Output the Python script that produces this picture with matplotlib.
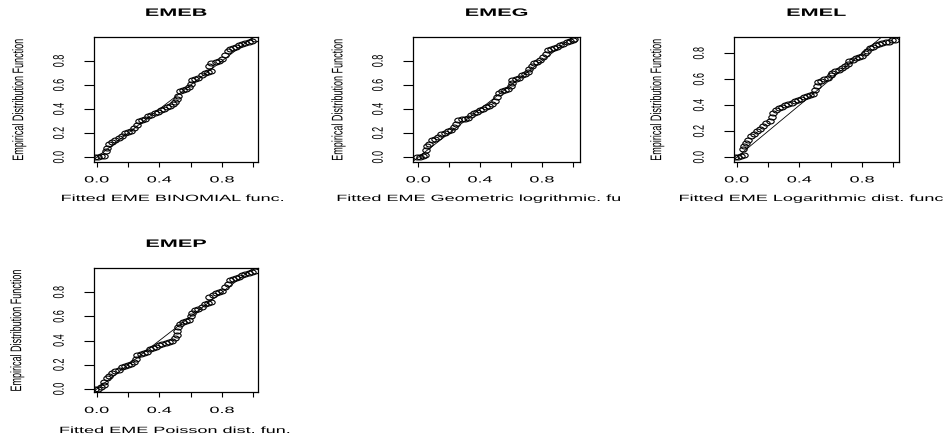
import matplotlib
matplotlib.use("Agg")
import matplotlib.pyplot as plt
from matplotlib.path import Path
from matplotlib.patheffects import AbstractPathEffect
from matplotlib.transforms import Affine2D

plt.rcParams["font.family"] = ["Liberation Sans", "DejaVu Sans"]

# P-P plot values (fitted cdf vs empirical cdf)
emeb_x = [-0.01, 0.01, 0.03, 0.05, 0.06, 0.065, 0.08, 0.10, 0.12, 0.14, 0.16, 0.18, 0.20, 0.22,
          0.24, 0.255, 0.27, 0.29, 0.31, 0.33, 0.35, 0.37, 0.39, 0.41, 0.43, 0.45, 0.47, 0.49,
          0.50, 0.51, 0.52, 0.53, 0.55, 0.57, 0.59, 0.60, 0.61, 0.63, 0.65, 0.67, 0.69, 0.71,
          0.73, 0.72, 0.73, 0.76, 0.78, 0.80, 0.82, 0.84, 0.85, 0.87, 0.89, 0.91, 0.93, 0.95,
          0.97, 0.99, 1.01]
emeb_y = [0.00, 0.00, 0.01, 0.01, 0.05, 0.08, 0.11, 0.13, 0.14, 0.16, 0.18, 0.20, 0.21, 0.22,
          0.24, 0.27, 0.30, 0.31, 0.32, 0.34, 0.35, 0.37, 0.38, 0.39, 0.40, 0.42, 0.43, 0.44,
          0.46, 0.48, 0.51, 0.55, 0.56, 0.57, 0.58, 0.61, 0.64, 0.65, 0.66, 0.68, 0.70, 0.71,
          0.72, 0.76, 0.78, 0.79, 0.80, 0.82, 0.85, 0.88, 0.90, 0.91, 0.92, 0.93, 0.94, 0.95,
          0.96, 0.97, 0.98]

emeg_x = [-0.01, 0.01, 0.03, 0.045, 0.05, 0.055, 0.07, 0.09, 0.11, 0.13, 0.15, 0.17, 0.19, 0.21,
          0.23, 0.245, 0.26, 0.28, 0.30, 0.32, 0.34, 0.36, 0.38, 0.40, 0.42, 0.44, 0.46, 0.48,
          0.50, 0.51, 0.52, 0.54, 0.56, 0.58, 0.60, 0.605, 0.61, 0.63, 0.65, 0.67, 0.69, 0.71,
          0.72, 0.735, 0.75, 0.77, 0.79, 0.81, 0.83, 0.84, 0.86, 0.88, 0.90, 0.92, 0.94, 0.96,
          0.98, 1.00, 1.01]
emeg_y = [0.00, 0.00, 0.01, 0.02, 0.06, 0.09, 0.11, 0.14, 0.15, 0.17, 0.19, 0.20, 0.22, 0.23,
          0.25, 0.28, 0.31, 0.32, 0.32, 0.33, 0.35, 0.37, 0.38, 0.39, 0.40, 0.42, 0.43, 0.44,
          0.47, 0.50, 0.53, 0.55, 0.56, 0.57, 0.59, 0.62, 0.64, 0.65, 0.66, 0.68, 0.69, 0.71,
          0.73, 0.76, 0.78, 0.79, 0.81, 0.83, 0.86, 0.89, 0.90, 0.91, 0.92, 0.93, 0.945, 0.955,
          0.965, 0.975, 0.98]

emel_x = [-0.01, 0.01, 0.03, 0.05, 0.04, 0.045, 0.06, 0.075, 0.09, 0.11, 0.13, 0.15, 0.17, 0.19,
          0.21, 0.225, 0.235, 0.25, 0.27, 0.29, 0.31, 0.33, 0.35, 0.37, 0.39, 0.41, 0.43, 0.45,
          0.47, 0.49, 0.50, 0.51, 0.52, 0.54, 0.56, 0.58, 0.60, 0.61, 0.63, 0.65, 0.67, 0.69,
          0.71, 0.72, 0.74, 0.76, 0.78, 0.80, 0.82, 0.83, 0.85, 0.87, 0.89, 0.91, 0.93, 0.95,
          0.97, 0.99, 1.01]
emel_y = [0.00, 0.00, 0.01, 0.02, 0.06, 0.09, 0.11, 0.13, 0.16, 0.18, 0.20, 0.22, 0.24, 0.26,
          0.28, 0.31, 0.34, 0.36, 0.38, 0.39, 0.40, 0.41, 0.42, 0.43, 0.44, 0.45, 0.46, 0.47,
          0.48, 0.49, 0.52, 0.55, 0.58, 0.59, 0.60, 0.61, 0.63, 0.65, 0.66, 0.67, 0.69, 0.70,
          0.72, 0.74, 0.75, 0.76, 0.77, 0.78, 0.80, 0.82, 0.84, 0.85, 0.86, 0.87, 0.88, 0.885,
          0.89, 0.90, 0.905]

emep_x = [-0.01, 0.01, 0.03, 0.045, 0.05, 0.065, 0.08, 0.10, 0.12, 0.14, 0.16, 0.18, 0.20, 0.22,
          0.24, 0.25, 0.26, 0.28, 0.30, 0.32, 0.34, 0.36, 0.38, 0.40, 0.42, 0.44, 0.46, 0.48,
          0.50, 0.51, 0.515, 0.52, 0.53, 0.55, 0.57, 0.59, 0.60, 0.61, 0.63, 0.65, 0.67, 0.69,
          0.71, 0.73, 0.72, 0.74, 0.76, 0.78, 0.80, 0.82, 0.84, 0.85, 0.87, 0.89, 0.91, 0.93,
          0.95, 0.97, 0.99, 1.01]
emep_y = [0.00, 0.00, 0.02, 0.03, 0.06, 0.09, 0.11, 0.13, 0.15, 0.16, 0.18, 0.19, 0.20, 0.21,
          0.22, 0.25, 0.28, 0.29, 0.30, 0.31, 0.33, 0.34, 0.35, 0.36, 0.37, 0.38, 0.39, 0.40,
          0.42, 0.45, 0.48, 0.51, 0.54, 0.55, 0.56, 0.57, 0.60, 0.63, 0.65, 0.66, 0.68, 0.70,
          0.71, 0.72, 0.76, 0.78, 0.79, 0.80, 0.81, 0.84, 0.87, 0.90, 0.91, 0.92, 0.93, 0.94,
          0.95, 0.96, 0.97, 0.975]

titles = ["EMEB", "EMEG", "EMEL", "EMEP"]
xlabels = ["Fitted EME BINOMIAL func.", "Fitted EME Geometric logrithmic. fu",
           "Fitted EME Logarithmic dist. func", "Fitted EME Poisson dist. fun."]
ylabel = "Empirical Distribution Function"
xticks = [0.0, 0.2, 0.4, 0.6, 0.8, 1.0]
xticklabels = ["0.0", "", "0.4", "", "0.8", ""]
yticks = [0.0, 0.2, 0.4, 0.6, 0.8]
yticklabels = ["0.0", "0.2", "0.4", "0.6", "0.8"]


class Widen(AbstractPathEffect):
    # the source image was stretched sideways, so stretch the glyphs the same way
    def __init__(self, factor):
        super().__init__()
        self.factor = factor

    def draw_path(self, renderer, gc, tpath, affine, rgbFace=None):
        box = tpath.get_extents(affine)
        cx = (box.x0 + box.x1) / 2
        wide = affine + Affine2D().translate(-cx, 0).scale(self.factor, 1).translate(cx, 0)
        renderer.draw_path(gc, tpath, wide, rgbFace)


W, H = 945, 440
fig = plt.figure(figsize=(W / 100, H / 100), dpi=100)

# pixel layout: axes box (left, top, right, bottom), limits, x-label centre, y-label centre x
layout = [
    ((94.3, 37.3, 258.3, 161.7), (-0.015, 1.032), (-0.037, 0.997), (172.5, 198.5), 19),
    ((413.3, 37.3, 580.0, 161.7), (-0.032, 1.047), (-0.037, 0.997), (479, 198.5), 338.3),
    ((734.3, 37.3, 898.7, 161.7), (-0.015, 1.034), (-0.034, 0.923), (811.5, 198.5), 657),
    ((94.3, 268.3, 258.3, 392.3), (-0.015, 1.032), (-0.027, 0.998), (175, 430.5), 17),
]
series = [(emeb_x, emeb_y), (emeg_x, emeg_y), (emel_x, emel_y), (emep_x, emep_y)]

oval = Path.unit_circle().transformed(Affine2D().scale(1.5, 1.0))

for i, ((l, t, r, b), xlim, ylim, (lx, ly), yx) in enumerate(layout):
    ax = fig.add_axes([l / W, 1 - b / H, (r - l) / W, (b - t) / H])
    xs, ys = series[i]
    ax.plot(xs, ys, linestyle="none", marker=oval, markersize=5.3,
            markerfacecolor="none", markeredgecolor="black", markeredgewidth=0.8)
    ax.axline((0, 0), (1, 1), color="black", linewidth=0.6, zorder=3)
    ax.set_xlim(xlim)
    ax.set_ylim(ylim)
    for s in ax.spines.values():
        s.set_linewidth(0.9)

    ax.set_xticks(xticks)
    ax.set_xticklabels(xticklabels)
    ax.set_yticks(yticks)
    ax.set_yticklabels(yticklabels)
    ax.tick_params(axis="x", length=3.6, width=0.8, pad=9.5, labelsize=6.5)
    ax.tick_params(axis="y", length=7.2, width=0.8, pad=18.2, labelsize=6.5, labelrotation=90)
    for lab in ax.get_xticklabels():
        lab.set_va("center")
        lab.set_path_effects([Widen(2.0)])
    for lab in ax.get_yticklabels():
        lab.set_ha("center")
        lab.set_va("center")
        lab.set_path_effects([Widen(1.7)])

    ax.set_title(titles[i], fontsize=7.8, fontweight="bold", pad=15.4, path_effects=[Widen(2.0)])
    ax.set_xlabel(xlabels[i], fontsize=6.5, va="center", path_effects=[Widen(2.0)])
    ax.xaxis.set_label_coords(lx / W, 1 - ly / H, transform=fig.transFigure)
    ax.set_ylabel(ylabel, fontsize=6.5, ha="center", va="center", path_effects=[Widen(1.7)])
    ax.yaxis.set_label_coords(yx / W, 1 - (t + b) / 2 / H, transform=fig.transFigure)

fig.savefig("out.png", dpi=100)
